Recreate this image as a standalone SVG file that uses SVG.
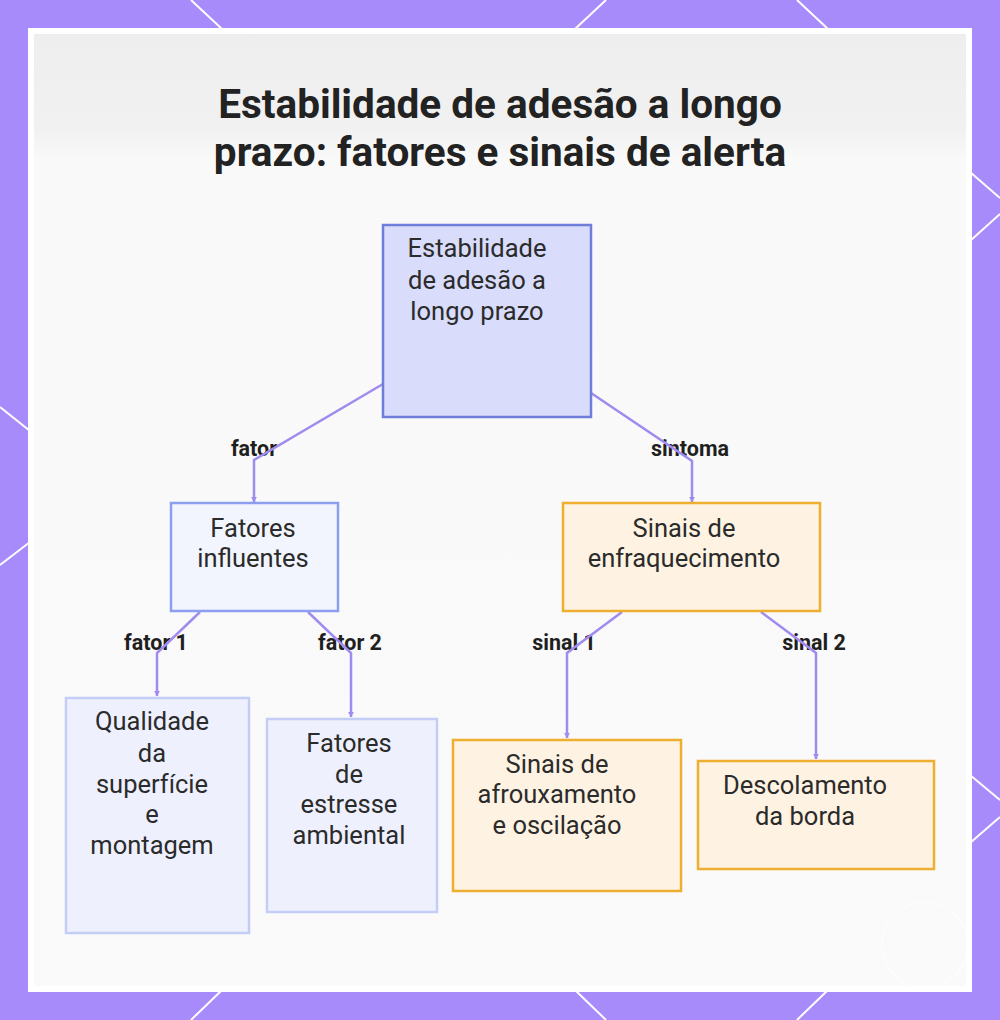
<svg xmlns="http://www.w3.org/2000/svg" width="1000" height="1020" viewBox="0 0 1000 1020">
  <style>
    .title { font-family: Roboto, "Liberation Sans", sans-serif; font-weight: 700; font-size: 40.5px; fill: #222222; text-anchor: middle; }
    .node-text { font-family: Roboto, "Liberation Sans", sans-serif; font-size: 25.5px; fill: #2b2b2b; text-anchor: middle; }
    .edge-label { font-family: Roboto, "Liberation Sans", sans-serif; font-weight: 700; font-size: 21.5px; fill: #1f1f1f; text-anchor: middle; }
    .edge { fill: none; stroke: #a18bef; stroke-width: 2.5; marker-end: url(#arrow); }
    .frame-line { stroke: #ffffff; stroke-width: 2; }
    .blue-main { fill: #d9dcfb; stroke: #6f7ed8; stroke-width: 2.5; }
    .blue-mid { fill: #f3f5fe; stroke: #8b9ef0; stroke-width: 2.5; }
    .blue-light { fill: #eef1fd; stroke: #c3cdf6; stroke-width: 2.5; }
    .amber { fill: #fef3e2; stroke: #eeae30; stroke-width: 2.5; }
  </style>
  <defs>
    <marker id="arrow" viewBox="0 0 10 10" refX="9" refY="5" markerWidth="2.4" markerHeight="2.4" orient="auto">
      <path d="M0,0 L10,5 L0,10 z" fill="#a18bef"/>
    </marker>
    <linearGradient id="bg" x1="0" y1="0" x2="0" y2="1">
      <stop offset="0" stop-color="#eeeeee"/>
      <stop offset="0.1" stop-color="#f1f1f1"/>
      <stop offset="0.13" stop-color="#f9f9f9"/>
      <stop offset="1" stop-color="#fafafa"/>
    </linearGradient>
  </defs>

  <!-- frame -->
  <rect x="0" y="0" width="1000" height="1020" fill="#a78bfa"/>
  <g id="frame-lines">
    <line class="frame-line" x1="191" y1="0" x2="222" y2="29"/>
    <line class="frame-line" x1="606" y1="0" x2="575" y2="29"/>
    <line class="frame-line" x1="797" y1="0" x2="828" y2="29"/>
    <line class="frame-line" x1="222" y1="990" x2="191" y2="1020"/>
    <line class="frame-line" x1="575" y1="990" x2="606" y2="1020"/>
    <line class="frame-line" x1="828" y1="990" x2="797" y2="1020"/>
    <line class="frame-line" x1="0" y1="407" x2="30" y2="431"/>
    <line class="frame-line" x1="30" y1="542" x2="0" y2="565"/>
    <line class="frame-line" x1="970" y1="172" x2="1000" y2="198"/>
    <line class="frame-line" x1="970" y1="241" x2="1000" y2="214"/>
    <line class="frame-line" x1="970" y1="775" x2="1000" y2="800"/>
    <line class="frame-line" x1="970" y1="843" x2="1000" y2="817"/>
  </g>
  <rect x="28" y="28" width="944" height="964" fill="#ffffff"/>
  <rect x="34" y="34" width="932" height="952" fill="url(#bg)"/>
  <circle cx="925" cy="945" r="43" fill="none" stroke="#ffffff" stroke-width="1.2" stroke-opacity="0.7"/>

  <!-- title -->
  <g id="title">
    <text class="title" x="500" y="118">Estabilidade de adesão a longo</text>
    <text class="title" x="500" y="166">prazo: fatores e sinais de alerta</text>
  </g>

  <!-- connectors -->
  <g id="connectors">
    <text class="edge-label" x="254" y="456">fator</text>
    <text class="edge-label" x="690" y="456">sintoma</text>
    <text class="edge-label" x="156" y="650">fator 1</text>
    <text class="edge-label" x="350" y="650">fator 2</text>
    <text class="edge-label" x="564" y="650">sinal 1</text>
    <text class="edge-label" x="814" y="650">sinal 2</text>
    <path class="edge" d="M383,384 L254,460 L254,502"/>
    <path class="edge" d="M591,393 L692,461 L692,502"/>
    <path class="edge" d="M200,612 L157,653 L157,696"/>
    <path class="edge" d="M308,612 L351,653 L351,717"/>
    <path class="edge" d="M622,612 L567,653 L567,738"/>
    <path class="edge" d="M761,612 L816,653 L816,759"/>
  </g>

  <!-- nodes -->
  <g id="node-root">
    <rect class="blue-main" x="383" y="225" width="208" height="192"/>
    <text class="node-text" x="477" y="257">Estabilidade</text>
    <text class="node-text" x="477" y="289">de adesão a</text>
    <text class="node-text" x="477" y="320">longo prazo</text>
  </g>
  <g id="node-fatores">
    <rect class="blue-mid" x="171" y="503" width="167" height="108"/>
    <text class="node-text" x="253" y="537">Fatores</text>
    <text class="node-text" x="253" y="567">influentes</text>
  </g>
  <g id="node-sinais">
    <rect class="amber" x="563" y="503" width="257" height="108"/>
    <text class="node-text" x="684" y="537">Sinais de</text>
    <text class="node-text" x="684" y="567">enfraquecimento</text>
  </g>
  <g id="node-qualidade">
    <rect class="blue-light" x="66" y="698" width="183" height="235"/>
    <text class="node-text" x="152" y="730">Qualidade</text>
    <text class="node-text" x="152" y="762">da</text>
    <text class="node-text" x="152" y="793">superfície</text>
    <text class="node-text" x="152" y="823">e</text>
    <text class="node-text" x="152" y="854">montagem</text>
  </g>
  <g id="node-estresse">
    <rect class="blue-light" x="267" y="719" width="170" height="193"/>
    <text class="node-text" x="349" y="752">Fatores</text>
    <text class="node-text" x="349" y="783">de</text>
    <text class="node-text" x="349" y="813">estresse</text>
    <text class="node-text" x="349" y="844">ambiental</text>
  </g>
  <g id="node-afrouxamento">
    <rect class="amber" x="453" y="740" width="228" height="151"/>
    <text class="node-text" x="557" y="773">Sinais de</text>
    <text class="node-text" x="557" y="803">afrouxamento</text>
    <text class="node-text" x="557" y="834">e oscilação</text>
  </g>
  <g id="node-descolamento">
    <rect class="amber" x="698" y="761" width="236" height="108"/>
    <text class="node-text" x="805" y="794">Descolamento</text>
    <text class="node-text" x="805" y="825">da borda</text>
  </g>
</svg>
